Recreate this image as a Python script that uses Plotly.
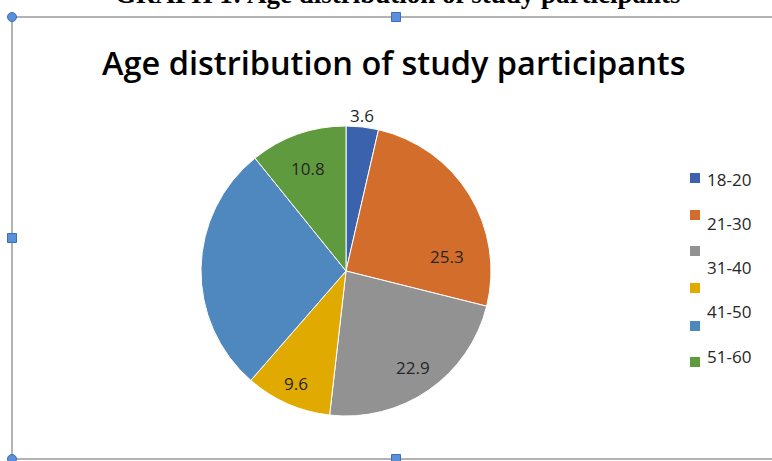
import plotly.graph_objects as go

# Age-group shares (percent), clockwise from 12 o'clock
slice_values = [3.6, 25.3, 22.9, 9.6, 27.8, 10.8]
slice_colors = ["#3b63ad", "#d36d2c", "#929292", "#e0aa00", "#4f88be", "#5f9b3e"]
# which slices carry a data label
slice_labelled = [True, True, True, True, False, True]

# Legend entries: marker colours and the captions as laid out beside them
legend_colors = slice_colors
legend_marker_y = [178, 215, 251, 288, 326, 362]
legend_labels = ["18-20", "21-30", "31-40", "41-50", "51-60"]
legend_label_y = [180, 223, 267, 311, 356]

# data-label anchor points (pixels) for the labelled slices, in slice order
label_xy = [(362, 116), (447, 256), (413, 367), (296, 383), None, (308, 169)]

W, H = 772, 461


def px(x):
    return x / W


def py(y):
    return 1 - y / H


FONT = "Open Sans"

fig = go.Figure()

cx, cy, r = 346, 271, 145
fig.add_trace(go.Pie(
    values=slice_values,
    textinfo="none",
    sort=False,
    direction="clockwise",
    rotation=0,
    marker=dict(colors=slice_colors, line=dict(color="white", width=1)),
    domain=dict(x=[px(cx - r), px(cx + r)], y=[py(cy + r), py(cy - r)]),
    showlegend=False,
    hoverinfo="skip",
))

shapes = []
# chart frame
frame = dict(type="line", xref="paper", yref="paper", line=dict(color="#9a9a9a", width=1.5))
shapes.append({**frame, "x0": px(12), "x1": px(772), "y0": py(17), "y1": py(17)})
shapes.append({**frame, "x0": px(12), "x1": px(772), "y0": py(459), "y1": py(459)})
shapes.append({**frame, "x0": px(12), "x1": px(12), "y0": py(17), "y1": py(459)})

# selection handles
for hx, hy, kind in [(12, 17, "circle"), (396, 17, "rect"), (12, 238, "rect"),
                     (12, 459, "circle"), (396, 459, "rect")]:
    s = 4.5
    shapes.append(dict(type=kind, xref="paper", yref="paper",
                       x0=px(hx - s), x1=px(hx + s), y0=py(hy + s), y1=py(hy - s),
                       fillcolor="#5b8fd9", line=dict(color="#3a6cc0", width=1)))

# legend swatches
for c, my in zip(legend_colors, legend_marker_y):
    shapes.append(dict(type="rect", xref="paper", yref="paper",
                       x0=px(690), x1=px(700), y0=py(my + 5), y1=py(my - 5),
                       fillcolor=c, line=dict(width=0)))

annotations = [
    dict(text="<b>GRAPH 1: Age distribution of study participants</b>",
         x=px(398), y=py(-6), xref="paper", yref="paper", showarrow=False,
         font=dict(family="Liberation Serif", size=27, color="#000000"),
         xanchor="center", yanchor="middle"),
    dict(text="Age distribution of study participants",
         x=px(394), y=py(62), xref="paper", yref="paper", showarrow=False,
         font=dict(family=FONT, size=32.5, color="#000000", weight=600),
         xanchor="center", yanchor="middle"),
]

# data labels, text taken from the slice values
for v, show, xy in zip(slice_values, slice_labelled, label_xy):
    if not show:
        continue
    annotations.append(dict(text=f"{v:g}", x=px(xy[0]), y=py(xy[1]),
                            xref="paper", yref="paper", showarrow=False,
                            xanchor="center", yanchor="middle",
                            font=dict(family=FONT, size=17, color="#262626")))

for lab, ly in zip(legend_labels, legend_label_y):
    annotations.append(dict(text=lab, x=px(705), y=py(ly), xref="paper", yref="paper",
                            showarrow=False, xanchor="left", yanchor="middle",
                            font=dict(family=FONT, size=17, color="#262626")))

fig.update_layout(
    width=W, height=H,
    margin=dict(l=0, r=0, t=0, b=0),
    paper_bgcolor="white",
    plot_bgcolor="white",
    shapes=shapes,
    annotations=annotations,
)

fig.write_html("out.html")
